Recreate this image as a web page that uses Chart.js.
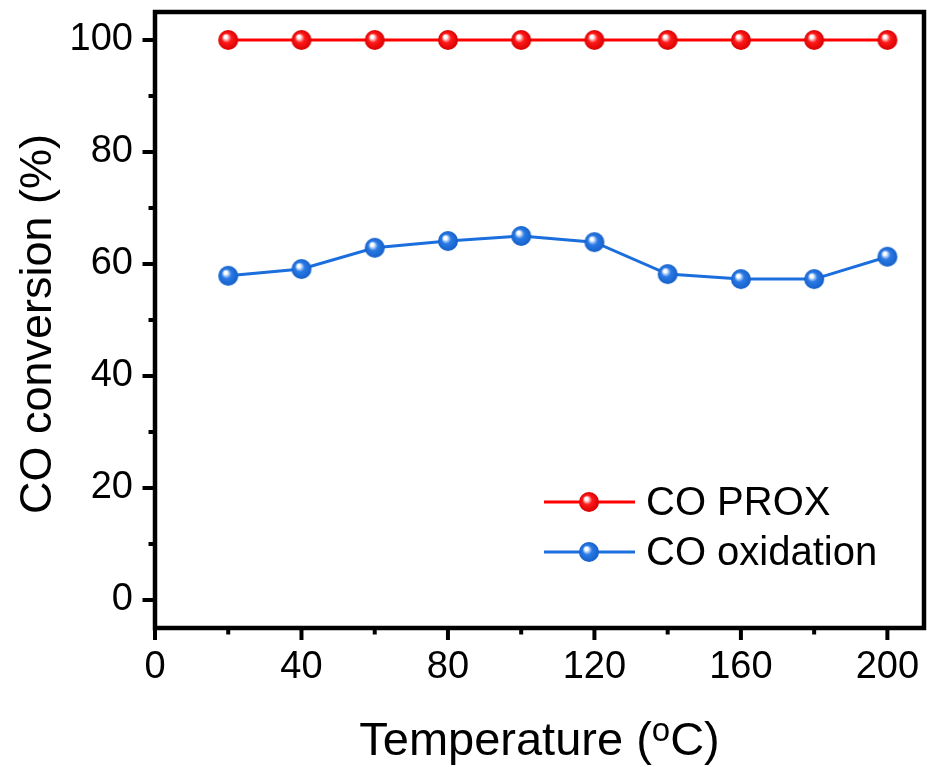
<!DOCTYPE html>
<html>
<head>
<meta charset="utf-8">
<script src="https://cdn.jsdelivr.net/npm/chart.js@4"></script>
<style>
  html, body { margin: 0; padding: 0; background: #fff; }
  #wrap { width: 927px; height: 767px; }
</style>
</head>
<body>
<div id="wrap"><canvas id="c" width="927" height="767"></canvas></div>
<script>
const temperatures = [20, 40, 60, 80, 100, 120, 140, 160, 180, 200];
const coProx = [100, 100, 100, 100, 100, 100, 100, 100, 100, 100];
const coOxidation = [57.9, 59.1, 62.9, 64.1, 65.0, 63.9, 58.2, 57.3, 57.3, 61.3];
const xTickLabels = [0, 40, 80, 120, 160, 200];
const xMinorTicks = [20, 60, 100, 140, 180];
const yTickLabels = [0, 20, 40, 60, 80, 100];
const yMinorTicks = [10, 30, 50, 70, 90];
const seriesNames = ['CO PROX', 'CO oxidation'];
const xTitleMain = 'Temperature (';
const xTitleSup = 'o';
const xTitleEnd = 'C)';
const yTitle = 'CO conversion (%)';

const FONT = '"Liberation Sans", Arial, Helvetica, sans-serif';

function sphere(color, dark) {
  const r = 10, size = 2 * r + 2;
  const cv = document.createElement('canvas');
  cv.width = size; cv.height = size;
  const g = cv.getContext('2d');
  const c = size / 2;
  const grad = g.createRadialGradient(c - 3, c - 3.5, 0.5, c, c, r);
  grad.addColorStop(0, '#ffffff');
  grad.addColorStop(0.12, '#ffffff');
  grad.addColorStop(0.45, color);
  grad.addColorStop(1, dark);
  g.fillStyle = grad;
  g.beginPath(); g.arc(c, c, r, 0, Math.PI * 2); g.fill();
  return cv;
}
const redBall = sphere('#ff1a1a', '#d80000');
const blueBall = sphere('#2a7ae6', '#1560c8');

function noPad(s) { s.paddingTop = 0; s.paddingBottom = 0; s.paddingLeft = 0; s.paddingRight = 0; }

const frameTicks = {
  id: 'frameTicks',
  afterDraw(chart) {
    const ctx = chart.ctx;
    const a = chart.chartArea;
    const xs = chart.scales.x, ys = chart.scales.y;
    ctx.save();
    ctx.strokeStyle = '#000';
    ctx.lineCap = 'butt';
    ctx.lineWidth = 4;
    xTickLabels.forEach(v => {
      const px = xs.getPixelForValue(v);
      ctx.beginPath(); ctx.moveTo(px, a.bottom); ctx.lineTo(px, a.bottom + 12); ctx.stroke();
    });
    xMinorTicks.forEach(v => {
      const px = xs.getPixelForValue(v);
      ctx.beginPath(); ctx.moveTo(px, a.bottom); ctx.lineTo(px, a.bottom + 6.5); ctx.stroke();
    });
    yTickLabels.forEach(v => {
      const py = ys.getPixelForValue(v);
      ctx.beginPath(); ctx.moveTo(a.left, py); ctx.lineTo(a.left - 12.5, py); ctx.stroke();
    });
    yMinorTicks.forEach(v => {
      const py = ys.getPixelForValue(v);
      ctx.beginPath(); ctx.moveTo(a.left, py); ctx.lineTo(a.left - 6.5, py); ctx.stroke();
    });
    ctx.lineWidth = 4.5;
    ctx.strokeRect(a.left, a.top, a.right - a.left, a.bottom - a.top);

    const legend = [
      { name: seriesNames[0], color: '#ff0000', img: redBall, y: 502, base: 515 },
      { name: seriesNames[1], color: '#1a6fdc', img: blueBall, y: 552, base: 565 }
    ];
    legend.forEach(it => {
      ctx.strokeStyle = it.color; ctx.lineWidth = 3;
      ctx.beginPath(); ctx.moveTo(544, it.y); ctx.lineTo(635, it.y); ctx.stroke();
      ctx.drawImage(it.img, 589 - it.img.width / 2, it.y - it.img.height / 2);
      ctx.fillStyle = '#000';
      ctx.font = '40px ' + FONT;
      ctx.textAlign = 'left'; ctx.textBaseline = 'alphabetic';
      ctx.fillText(it.name, 646, it.base);
    });

    ctx.fillStyle = '#000';
    ctx.textBaseline = 'alphabetic';
    ctx.textAlign = 'left';
    const fMain = '47px ' + FONT, fSup = '33px ' + FONT;
    ctx.font = fMain;
    const w1 = ctx.measureText(xTitleMain).width;
    const w3 = ctx.measureText(xTitleEnd).width;
    ctx.font = fSup;
    const w2 = ctx.measureText(xTitleSup).width;
    const total = w1 + w2 + w3;
    const cx = (a.left + a.right) / 2;
    const x0 = cx - total / 2;
    const base = 755;
    ctx.font = fMain; ctx.fillText(xTitleMain, x0, base);
    ctx.font = fSup; ctx.fillText(xTitleSup, x0 + w1, base - 14);
    ctx.font = fMain; ctx.fillText(xTitleEnd, x0 + w1 + w2, base);

    ctx.save();
    ctx.translate(51, 324);
    ctx.rotate(-Math.PI / 2);
    ctx.font = '45px ' + FONT;
    ctx.textAlign = 'center'; ctx.textBaseline = 'alphabetic';
    ctx.fillText(yTitle, 0, 0);
    ctx.restore();

    ctx.restore();
  }
};

new Chart(document.getElementById('c'), {
  type: 'line',
  data: {
    datasets: [
      {
        label: seriesNames[0],
        data: temperatures.map((t, i) => ({ x: t, y: coProx[i] })),
        borderColor: '#ff0000', borderWidth: 3,
        pointStyle: redBall, pointRadius: 10, tension: 0
      },
      {
        label: seriesNames[1],
        data: temperatures.map((t, i) => ({ x: t, y: coOxidation[i] })),
        borderColor: '#1a6fdc', borderWidth: 3,
        pointStyle: blueBall, pointRadius: 10, tension: 0
      }
    ]
  },
  options: {
    responsive: false,
    animation: false,
    devicePixelRatio: 1,
    layout: { autoPadding: false, padding: { top: 12, right: 3, left: 0, bottom: 0 } },
    plugins: { legend: { display: false }, tooltip: { enabled: false } },
    scales: {
      x: {
        type: 'linear', min: 0, max: 210,
        afterBuildTicks: s => { s.ticks = xTickLabels.map(v => ({ value: v })); },
        afterFit: s => { s.height = 139; noPad(s); },
        grid: { display: false, drawTicks: true, tickLength: 12 },
        border: { display: false },
        ticks: { color: '#000', padding: 5, maxRotation: 0, autoSkip: false, font: { size: 38, family: FONT } }
      },
      y: {
        type: 'linear', min: -5, max: 105,
        afterBuildTicks: s => { s.ticks = yTickLabels.map(v => ({ value: v })); },
        afterFit: s => { s.width = 155; noPad(s); },
        grid: { display: false, drawTicks: true, tickLength: 12 },
        border: { display: false },
        ticks: { color: '#000', padding: 10, autoSkip: false, font: { size: 38, family: FONT } }
      }
    }
  },
  plugins: [frameTicks]
});
</script>
</body>
</html>
